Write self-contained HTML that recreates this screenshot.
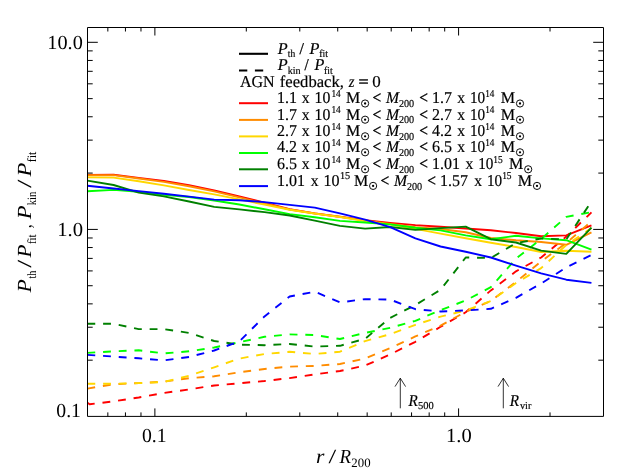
<!DOCTYPE html>
<html><head><meta charset="utf-8"><title>plot</title>
<style>
html,body{margin:0;padding:0;background:#fff;}
body{width:629px;height:472px;overflow:hidden;}
svg{display:block;}
text{text-rendering:geometricPrecision;}
text{font-family:"Liberation Serif",serif;fill:#000;}
.i{font-style:italic;}
</style></head><body>
<div style="width:629px;height:472px;will-change:transform;">
<svg width="629" height="472" viewBox="0 0 629 472">
<rect x="0" y="0" width="629" height="472" fill="#fff"/>
<defs><clipPath id="c"><rect x="87.5" y="27.5" width="516.0" height="388.9"/></clipPath></defs>

<g clip-path="url(#c)" fill="none" stroke-width="1.90" stroke-linejoin="round">
<polyline points="87.40,174.91 113.60,174.70 138.75,177.82 163.90,180.83 189.05,185.14 214.20,190.36 239.35,196.50 264.50,202.64 289.65,209.26 314.80,213.43 339.95,216.79 365.10,220.16 390.25,222.88 415.40,225.17 440.55,226.79 465.70,228.57 490.85,230.20 516.00,233.00 541.15,236.20 566.30,235.40 591.45,225.40" stroke="#ff0000"/>
<polyline points="87.40,402.70 89.60,404.30 113.60,401.30 138.75,397.50 163.90,393.00 189.05,389.40 214.20,385.50 239.35,383.30 264.50,381.00 289.65,378.10 314.80,374.40 339.95,371.00 365.10,365.60 390.25,354.40 415.40,341.80 440.55,326.80 465.70,312.30 490.85,290.40 516.00,271.30 541.15,257.50 566.30,236.60 591.45,212.40" stroke="#ff0000" stroke-dasharray="7.85 7.85"/>
<polyline points="87.40,175.30 113.60,175.10 138.75,178.50 163.90,181.82 189.05,186.23 214.20,191.37 239.35,197.36 264.50,203.40 289.65,209.50 314.80,213.45 339.95,216.92 365.10,220.63 390.25,223.88 415.40,227.12 440.55,229.02 465.70,232.23 490.85,238.00 516.00,240.30 541.15,242.00 566.30,244.80 591.45,232.30" stroke="#ff8c00"/>
<polyline points="87.40,388.58 113.60,384.20 138.75,383.10 163.90,381.60 189.05,378.20 214.20,376.30 239.35,372.30 264.50,369.00 289.65,366.60 314.80,365.90 339.95,364.00 365.10,358.60 390.25,348.10 415.40,336.40 440.55,325.60 465.70,311.80 490.85,301.00 516.00,281.90 541.15,261.40 566.30,243.00 591.45,221.40" stroke="#ff8c00" stroke-dasharray="7.85 7.85"/>
<polyline points="87.40,177.40 113.60,177.60 138.75,181.21 163.90,185.40 189.05,190.05 214.20,194.42 239.35,199.37 264.50,204.61 289.65,209.76 314.80,213.57 339.95,216.95 365.10,221.07 390.25,224.63 415.40,228.88 440.55,233.68 465.70,238.30 490.85,242.80 516.00,247.00 541.15,252.00 566.30,250.80 591.45,251.80" stroke="#ffd700"/>
<polyline points="87.40,383.70 113.60,383.70 138.75,383.10 163.90,382.00 189.05,375.70 214.20,367.30 239.35,358.60 264.50,354.00 289.65,351.80 314.80,354.00 339.95,351.70 365.10,341.10 390.25,334.10 415.40,324.80 440.55,316.70 465.70,310.50 490.85,301.00 516.00,283.00 541.15,268.10 566.30,245.00 591.45,228.00" stroke="#ffd700" stroke-dasharray="7.85 7.85"/>
<polyline points="87.40,191.20 113.60,189.90 138.75,191.90 163.90,194.83 189.05,197.05 214.20,200.50 239.35,204.52 264.50,209.28 289.65,214.09 314.80,217.24 339.95,220.92 365.10,222.55 390.25,224.41 415.40,227.81 440.55,230.39 465.70,235.40 490.85,239.20 516.00,235.80 541.15,238.40 566.30,240.20 591.45,249.70" stroke="#00ff00"/>
<polyline points="87.40,352.86 113.60,351.30 138.75,350.30 163.90,353.40 189.05,351.30 214.20,347.50 239.35,342.20 264.50,336.80 289.65,334.40 314.80,335.00 339.95,339.00 365.10,332.90 390.25,327.80 415.40,320.80 440.55,310.10 465.70,300.50 490.85,287.20 516.00,258.60 541.15,239.00 566.30,216.90 591.45,212.10" stroke="#00ff00" stroke-dasharray="7.85 7.85"/>
<polyline points="87.40,180.59 113.60,185.00 138.75,192.63 163.90,196.41 189.05,201.48 214.20,206.86 239.35,209.38 264.50,212.18 289.65,215.54 314.80,220.65 339.95,225.87 365.10,228.67 390.25,227.06 415.40,229.88 440.55,228.10 465.70,226.62 490.85,239.20 516.00,242.50 541.15,250.60 566.30,253.90 591.45,227.60" stroke="#008000"/>
<polyline points="87.40,323.80 113.60,323.80 138.75,329.10 163.90,329.10 189.05,332.90 214.20,341.00 239.35,344.70 264.50,345.20 289.65,344.00 314.80,346.60 339.95,345.80 365.10,338.80 390.25,317.80 415.40,305.00 440.55,289.80 465.70,257.50 490.85,258.00 516.00,243.10 541.15,238.50 566.30,239.40 591.45,201.50" stroke="#008000" stroke-dasharray="7.85 7.85"/>
<polyline points="87.40,185.70 113.60,188.50 138.75,191.08 163.90,193.74 189.05,196.64 214.20,199.61 239.35,200.19 264.50,202.10 289.65,204.82 314.80,207.65 339.95,213.33 365.10,219.65 390.25,227.19 415.40,238.46 440.55,246.48 465.70,251.70 490.85,257.50 516.00,265.60 541.15,273.40 566.30,279.70 591.45,282.90" stroke="#0000ff"/>
<polyline points="87.40,354.83 113.60,356.60 138.75,358.30 163.90,360.40 189.05,357.00 214.20,350.50 239.35,341.40 264.50,316.40 289.65,296.50 314.80,291.70 339.95,302.40 365.10,299.10 390.25,299.60 415.40,309.20 440.55,311.50 465.70,310.40 490.85,308.80 516.00,297.80 541.15,283.50 566.30,267.30 591.45,255.00" stroke="#0000ff" stroke-dasharray="7.85 7.85"/>
</g>
<g stroke="#000" stroke-width="1" fill="none">
<path d="M87.5 27.5 H603.5 V416.4 H87.5 Z"/>
<path d="M154.88 416.4 v-8 M154.88 27.5 v8"/>
<path d="M458.59 416.4 v-8 M458.59 27.5 v8"/>
<path d="M107.83 416.4 v-4 M107.83 27.5 v4"/>
<path d="M125.45 416.4 v-4 M125.45 27.5 v4"/>
<path d="M140.98 416.4 v-4 M140.98 27.5 v4"/>
<path d="M246.31 416.4 v-4 M246.31 27.5 v4"/>
<path d="M299.79 416.4 v-4 M299.79 27.5 v4"/>
<path d="M337.73 416.4 v-4 M337.73 27.5 v4"/>
<path d="M367.17 416.4 v-4 M367.17 27.5 v4"/>
<path d="M391.21 416.4 v-4 M391.21 27.5 v4"/>
<path d="M411.55 416.4 v-4 M411.55 27.5 v4"/>
<path d="M429.16 416.4 v-4 M429.16 27.5 v4"/>
<path d="M444.69 416.4 v-4 M444.69 27.5 v4"/>
<path d="M550.02 416.4 v-4 M550.02 27.5 v4"/>
<path d="M87.5 229.41 h10.3 M603.5 229.41 h-10.3"/>
<path d="M87.5 42.31 h10.3 M603.5 42.31 h-10.3"/>
<path d="M87.5 360.18 h5.2 M603.5 360.18 h-5.2"/>
<path d="M87.5 327.23 h5.2 M603.5 327.23 h-5.2"/>
<path d="M87.5 303.86 h5.2 M603.5 303.86 h-5.2"/>
<path d="M87.5 285.73 h5.2 M603.5 285.73 h-5.2"/>
<path d="M87.5 270.91 h5.2 M603.5 270.91 h-5.2"/>
<path d="M87.5 258.39 h5.2 M603.5 258.39 h-5.2"/>
<path d="M87.5 247.54 h5.2 M603.5 247.54 h-5.2"/>
<path d="M87.5 237.97 h5.2 M603.5 237.97 h-5.2"/>
<path d="M87.5 173.09 h5.2 M603.5 173.09 h-5.2"/>
<path d="M87.5 140.14 h5.2 M603.5 140.14 h-5.2"/>
<path d="M87.5 116.77 h5.2 M603.5 116.77 h-5.2"/>
<path d="M87.5 98.63 h5.2 M603.5 98.63 h-5.2"/>
<path d="M87.5 83.82 h5.2 M603.5 83.82 h-5.2"/>
<path d="M87.5 71.30 h5.2 M603.5 71.30 h-5.2"/>
<path d="M87.5 60.45 h5.2 M603.5 60.45 h-5.2"/>
<path d="M87.5 50.88 h5.2 M603.5 50.88 h-5.2"/>
</g>
<text x="47.32" y="48.80" font-size="20" textLength="35.45" lengthAdjust="spacingAndGlyphs">10.0</text>
<text x="57.18" y="236.10" font-size="20" textLength="25.80" lengthAdjust="spacingAndGlyphs">1.0</text>
<text x="56.35" y="416.80" font-size="20" textLength="24.63" lengthAdjust="spacingAndGlyphs">0.1</text>
<text x="141.95" y="441.60" font-size="20" textLength="24.63" lengthAdjust="spacingAndGlyphs">0.1</text>
<text x="446.09" y="441.60" font-size="20" textLength="25.69" lengthAdjust="spacingAndGlyphs">1.0</text>
<text x="316.01" y="462.80" font-size="20" font-style="italic" textLength="8.43" lengthAdjust="spacingAndGlyphs">r</text>
<text x="328.40" y="462.80" font-size="20" textLength="7.70" lengthAdjust="spacingAndGlyphs">/</text>
<text x="339.59" y="462.80" font-size="20" font-style="italic" textLength="11.52" lengthAdjust="spacingAndGlyphs">R</text>
<text x="351.34" y="467.40" font-size="12.8" textLength="19.25" lengthAdjust="spacingAndGlyphs">200</text>
<g transform="translate(31.2,292.5) rotate(-90)">
<text x="0.11" y="0.00" font-size="20" font-style="italic" textLength="13.25" lengthAdjust="spacingAndGlyphs">P</text>
<text x="13.90" y="5.10" font-size="12.8" textLength="7.93" lengthAdjust="spacingAndGlyphs">th</text>
<text x="24.70" y="0.00" font-size="20" textLength="8.00" lengthAdjust="spacingAndGlyphs">/</text>
<text x="35.01" y="0.00" font-size="20" font-style="italic" textLength="12.94" lengthAdjust="spacingAndGlyphs">P</text>
<text x="48.46" y="5.10" font-size="12.8" textLength="9.70" lengthAdjust="spacingAndGlyphs">fit</text>
<text x="64.31" y="0.00" font-size="20" textLength="3.86" lengthAdjust="spacingAndGlyphs">,</text>
<text x="73.21" y="0.00" font-size="20" font-style="italic" textLength="13.77" lengthAdjust="spacingAndGlyphs">P</text>
<text x="87.20" y="5.10" font-size="12.8" textLength="13.66" lengthAdjust="spacingAndGlyphs">kin</text>
<text x="104.60" y="0.00" font-size="20" textLength="8.49" lengthAdjust="spacingAndGlyphs">/</text>
<text x="116.11" y="0.00" font-size="20" font-style="italic" textLength="13.87" lengthAdjust="spacingAndGlyphs">P</text>
<text x="130.33" y="5.10" font-size="12.8" textLength="10.53" lengthAdjust="spacingAndGlyphs">fit</text>
</g>
<path d="M239 53.8 H268" stroke="#000" stroke-width="2.1" stroke-linecap="butt"/>
<path d="M239 70.4 H268" stroke="#000" stroke-width="2.0" stroke-dasharray="8.3 7.6"/>
<text x="277.68" y="53.50" font-size="16.6" font-style="italic" textLength="9.94" lengthAdjust="spacingAndGlyphs" stroke="#000" stroke-width="0.18">P</text>
<text x="287.80" y="57.30" font-size="10.6" textLength="7.42" lengthAdjust="spacingAndGlyphs" stroke="#000" stroke-width="0.18">th</text>
<text x="299.50" y="53.50" font-size="16.6" textLength="4.40" lengthAdjust="spacingAndGlyphs" stroke="#000" stroke-width="0.3">/</text>
<text x="309.48" y="53.50" font-size="16.6" font-style="italic" textLength="9.94" lengthAdjust="spacingAndGlyphs" stroke="#000" stroke-width="0.18">P</text>
<text x="319.19" y="57.30" font-size="10.6" textLength="8.76" lengthAdjust="spacingAndGlyphs" stroke="#000" stroke-width="0.18">fit</text>
<text x="277.68" y="69.90" font-size="16.6" font-style="italic" textLength="9.94" lengthAdjust="spacingAndGlyphs" stroke="#000" stroke-width="0.18">P</text>
<text x="287.71" y="73.70" font-size="10.6" textLength="12.94" lengthAdjust="spacingAndGlyphs" stroke="#000" stroke-width="0.18">kin</text>
<text x="304.40" y="69.90" font-size="16.6" textLength="4.20" lengthAdjust="spacingAndGlyphs" stroke="#000" stroke-width="0.3">/</text>
<text x="314.58" y="69.90" font-size="16.6" font-style="italic" textLength="9.84" lengthAdjust="spacingAndGlyphs" stroke="#000" stroke-width="0.18">P</text>
<text x="324.00" y="73.70" font-size="10.6" textLength="8.66" lengthAdjust="spacingAndGlyphs" stroke="#000" stroke-width="0.18">fit</text>
<text x="239.94" y="86.90" font-size="16.6" textLength="34.64" lengthAdjust="spacingAndGlyphs" stroke="#000" stroke-width="0.18">AGN</text>
<text x="279.78" y="86.90" font-size="16.6" textLength="64.17" lengthAdjust="spacingAndGlyphs" stroke="#000" stroke-width="0.18">feedback,</text>
<text x="348.76" y="86.90" font-size="16.6" font-style="italic" textLength="5.73" lengthAdjust="spacingAndGlyphs" stroke="#000" stroke-width="0.18">z</text>
<text x="358.51" y="86.90" font-size="16.6" textLength="10.07" lengthAdjust="spacingAndGlyphs" stroke="#000" stroke-width="0.45">=</text>
<text x="372.15" y="86.90" font-size="16.6" textLength="8.49" lengthAdjust="spacingAndGlyphs" stroke="#000" stroke-width="0.18">0</text>
<path d="M239 103.2 H268" stroke="#ff0000" stroke-width="2.0"/>
<text x="277.00" y="103.40" font-size="16.6" textLength="20.00" lengthAdjust="spacingAndGlyphs" stroke="#000" stroke-width="0.18">1.1</text>
<text x="301.66" y="103.40" font-size="16.6" textLength="7.83" lengthAdjust="spacingAndGlyphs" stroke="#000" stroke-width="0.18">x</text>
<text x="314.61" y="103.40" font-size="16.6" textLength="15.79" lengthAdjust="spacingAndGlyphs" stroke="#000" stroke-width="0.18">10</text>
<text x="331.48" y="96.70" font-size="10.6" textLength="9.26" lengthAdjust="spacingAndGlyphs" stroke="#000" stroke-width="0.18">14</text>
<text x="345.94" y="103.40" font-size="16.6" textLength="14.23" lengthAdjust="spacingAndGlyphs" stroke="#000" stroke-width="0.18">M</text>
<circle cx="365.10" cy="103.50" r="3.6" fill="none" stroke="#000" stroke-width="0.95"/><circle cx="365.10" cy="103.50" r="1.15" fill="#000"/>
<text x="372.54" y="103.40" font-size="16.6" textLength="8.61" lengthAdjust="spacingAndGlyphs" stroke="#000" stroke-width="0.45">&lt;</text>
<text x="385.99" y="103.40" font-size="16.6" font-style="italic" textLength="13.09" lengthAdjust="spacingAndGlyphs" stroke="#000" stroke-width="0.18">M</text>
<text x="398.95" y="107.20" font-size="10.6" textLength="15.23" lengthAdjust="spacingAndGlyphs" stroke="#000" stroke-width="0.18">200</text>
<text x="419.14" y="103.40" font-size="16.6" textLength="8.61" lengthAdjust="spacingAndGlyphs" stroke="#000" stroke-width="0.45">&lt;</text>
<text x="431.90" y="103.40" font-size="16.6" textLength="20.00" lengthAdjust="spacingAndGlyphs" stroke="#000" stroke-width="0.18">1.7</text>
<text x="457.36" y="103.40" font-size="16.6" textLength="7.83" lengthAdjust="spacingAndGlyphs" stroke="#000" stroke-width="0.18">x</text>
<text x="469.96" y="103.40" font-size="16.6" textLength="15.22" lengthAdjust="spacingAndGlyphs" stroke="#000" stroke-width="0.18">10</text>
<text x="485.19" y="96.70" font-size="10.6" textLength="9.15" lengthAdjust="spacingAndGlyphs" stroke="#000" stroke-width="0.18">14</text>
<text x="500.73" y="103.40" font-size="16.6" textLength="14.34" lengthAdjust="spacingAndGlyphs" stroke="#000" stroke-width="0.18">M</text>
<circle cx="520.00" cy="103.50" r="3.6" fill="none" stroke="#000" stroke-width="0.95"/><circle cx="520.00" cy="103.50" r="1.15" fill="#000"/>
<path d="M239 119.9 H268" stroke="#ff8c00" stroke-width="2.0"/>
<text x="277.00" y="119.60" font-size="16.6" textLength="20.00" lengthAdjust="spacingAndGlyphs" stroke="#000" stroke-width="0.18">1.7</text>
<text x="301.66" y="119.60" font-size="16.6" textLength="7.83" lengthAdjust="spacingAndGlyphs" stroke="#000" stroke-width="0.18">x</text>
<text x="314.61" y="119.60" font-size="16.6" textLength="15.79" lengthAdjust="spacingAndGlyphs" stroke="#000" stroke-width="0.18">10</text>
<text x="331.48" y="112.90" font-size="10.6" textLength="9.26" lengthAdjust="spacingAndGlyphs" stroke="#000" stroke-width="0.18">14</text>
<text x="345.94" y="119.60" font-size="16.6" textLength="14.23" lengthAdjust="spacingAndGlyphs" stroke="#000" stroke-width="0.18">M</text>
<circle cx="365.10" cy="119.70" r="3.6" fill="none" stroke="#000" stroke-width="0.95"/><circle cx="365.10" cy="119.70" r="1.15" fill="#000"/>
<text x="372.54" y="119.60" font-size="16.6" textLength="8.61" lengthAdjust="spacingAndGlyphs" stroke="#000" stroke-width="0.45">&lt;</text>
<text x="385.99" y="119.60" font-size="16.6" font-style="italic" textLength="13.09" lengthAdjust="spacingAndGlyphs" stroke="#000" stroke-width="0.18">M</text>
<text x="398.95" y="123.40" font-size="10.6" textLength="15.23" lengthAdjust="spacingAndGlyphs" stroke="#000" stroke-width="0.18">200</text>
<text x="419.14" y="119.60" font-size="16.6" textLength="8.61" lengthAdjust="spacingAndGlyphs" stroke="#000" stroke-width="0.45">&lt;</text>
<text x="431.90" y="119.60" font-size="16.6" textLength="20.00" lengthAdjust="spacingAndGlyphs" stroke="#000" stroke-width="0.18">2.7</text>
<text x="457.36" y="119.60" font-size="16.6" textLength="7.83" lengthAdjust="spacingAndGlyphs" stroke="#000" stroke-width="0.18">x</text>
<text x="469.96" y="119.60" font-size="16.6" textLength="15.22" lengthAdjust="spacingAndGlyphs" stroke="#000" stroke-width="0.18">10</text>
<text x="485.19" y="112.90" font-size="10.6" textLength="9.15" lengthAdjust="spacingAndGlyphs" stroke="#000" stroke-width="0.18">14</text>
<text x="500.73" y="119.60" font-size="16.6" textLength="14.34" lengthAdjust="spacingAndGlyphs" stroke="#000" stroke-width="0.18">M</text>
<circle cx="520.00" cy="119.70" r="3.6" fill="none" stroke="#000" stroke-width="0.95"/><circle cx="520.00" cy="119.70" r="1.15" fill="#000"/>
<path d="M239 136.4 H268" stroke="#ffd700" stroke-width="2.0"/>
<text x="277.00" y="136.20" font-size="16.6" textLength="20.00" lengthAdjust="spacingAndGlyphs" stroke="#000" stroke-width="0.18">2.7</text>
<text x="301.66" y="136.20" font-size="16.6" textLength="7.83" lengthAdjust="spacingAndGlyphs" stroke="#000" stroke-width="0.18">x</text>
<text x="314.61" y="136.20" font-size="16.6" textLength="15.79" lengthAdjust="spacingAndGlyphs" stroke="#000" stroke-width="0.18">10</text>
<text x="331.48" y="129.50" font-size="10.6" textLength="9.26" lengthAdjust="spacingAndGlyphs" stroke="#000" stroke-width="0.18">14</text>
<text x="345.94" y="136.20" font-size="16.6" textLength="14.23" lengthAdjust="spacingAndGlyphs" stroke="#000" stroke-width="0.18">M</text>
<circle cx="365.10" cy="136.30" r="3.6" fill="none" stroke="#000" stroke-width="0.95"/><circle cx="365.10" cy="136.30" r="1.15" fill="#000"/>
<text x="372.54" y="136.20" font-size="16.6" textLength="8.61" lengthAdjust="spacingAndGlyphs" stroke="#000" stroke-width="0.45">&lt;</text>
<text x="385.99" y="136.20" font-size="16.6" font-style="italic" textLength="13.09" lengthAdjust="spacingAndGlyphs" stroke="#000" stroke-width="0.18">M</text>
<text x="398.95" y="140.00" font-size="10.6" textLength="15.23" lengthAdjust="spacingAndGlyphs" stroke="#000" stroke-width="0.18">200</text>
<text x="419.14" y="136.20" font-size="16.6" textLength="8.61" lengthAdjust="spacingAndGlyphs" stroke="#000" stroke-width="0.45">&lt;</text>
<text x="431.90" y="136.20" font-size="16.6" textLength="20.00" lengthAdjust="spacingAndGlyphs" stroke="#000" stroke-width="0.18">4.2</text>
<text x="457.36" y="136.20" font-size="16.6" textLength="7.83" lengthAdjust="spacingAndGlyphs" stroke="#000" stroke-width="0.18">x</text>
<text x="469.96" y="136.20" font-size="16.6" textLength="15.22" lengthAdjust="spacingAndGlyphs" stroke="#000" stroke-width="0.18">10</text>
<text x="485.19" y="129.50" font-size="10.6" textLength="9.15" lengthAdjust="spacingAndGlyphs" stroke="#000" stroke-width="0.18">14</text>
<text x="500.73" y="136.20" font-size="16.6" textLength="14.34" lengthAdjust="spacingAndGlyphs" stroke="#000" stroke-width="0.18">M</text>
<circle cx="520.00" cy="136.30" r="3.6" fill="none" stroke="#000" stroke-width="0.95"/><circle cx="520.00" cy="136.30" r="1.15" fill="#000"/>
<path d="M239 153.0 H268" stroke="#00ff00" stroke-width="2.0"/>
<text x="277.00" y="152.20" font-size="16.6" textLength="20.00" lengthAdjust="spacingAndGlyphs" stroke="#000" stroke-width="0.18">4.2</text>
<text x="301.66" y="152.20" font-size="16.6" textLength="7.83" lengthAdjust="spacingAndGlyphs" stroke="#000" stroke-width="0.18">x</text>
<text x="314.61" y="152.20" font-size="16.6" textLength="15.79" lengthAdjust="spacingAndGlyphs" stroke="#000" stroke-width="0.18">10</text>
<text x="331.48" y="145.50" font-size="10.6" textLength="9.26" lengthAdjust="spacingAndGlyphs" stroke="#000" stroke-width="0.18">14</text>
<text x="345.94" y="152.20" font-size="16.6" textLength="14.23" lengthAdjust="spacingAndGlyphs" stroke="#000" stroke-width="0.18">M</text>
<circle cx="365.10" cy="152.30" r="3.6" fill="none" stroke="#000" stroke-width="0.95"/><circle cx="365.10" cy="152.30" r="1.15" fill="#000"/>
<text x="372.54" y="152.20" font-size="16.6" textLength="8.61" lengthAdjust="spacingAndGlyphs" stroke="#000" stroke-width="0.45">&lt;</text>
<text x="385.99" y="152.20" font-size="16.6" font-style="italic" textLength="13.09" lengthAdjust="spacingAndGlyphs" stroke="#000" stroke-width="0.18">M</text>
<text x="398.95" y="156.00" font-size="10.6" textLength="15.23" lengthAdjust="spacingAndGlyphs" stroke="#000" stroke-width="0.18">200</text>
<text x="419.14" y="152.20" font-size="16.6" textLength="8.61" lengthAdjust="spacingAndGlyphs" stroke="#000" stroke-width="0.45">&lt;</text>
<text x="431.90" y="152.20" font-size="16.6" textLength="20.00" lengthAdjust="spacingAndGlyphs" stroke="#000" stroke-width="0.18">6.5</text>
<text x="457.36" y="152.20" font-size="16.6" textLength="7.83" lengthAdjust="spacingAndGlyphs" stroke="#000" stroke-width="0.18">x</text>
<text x="469.96" y="152.20" font-size="16.6" textLength="15.22" lengthAdjust="spacingAndGlyphs" stroke="#000" stroke-width="0.18">10</text>
<text x="485.19" y="145.50" font-size="10.6" textLength="9.15" lengthAdjust="spacingAndGlyphs" stroke="#000" stroke-width="0.18">14</text>
<text x="500.73" y="152.20" font-size="16.6" textLength="14.34" lengthAdjust="spacingAndGlyphs" stroke="#000" stroke-width="0.18">M</text>
<circle cx="520.00" cy="152.30" r="3.6" fill="none" stroke="#000" stroke-width="0.95"/><circle cx="520.00" cy="152.30" r="1.15" fill="#000"/>
<path d="M239 169.3 H268" stroke="#008000" stroke-width="2.0"/>
<text x="277.00" y="169.20" font-size="16.6" textLength="20.00" lengthAdjust="spacingAndGlyphs" stroke="#000" stroke-width="0.18">6.5</text>
<text x="301.66" y="169.20" font-size="16.6" textLength="7.83" lengthAdjust="spacingAndGlyphs" stroke="#000" stroke-width="0.18">x</text>
<text x="314.61" y="169.20" font-size="16.6" textLength="15.79" lengthAdjust="spacingAndGlyphs" stroke="#000" stroke-width="0.18">10</text>
<text x="331.48" y="162.50" font-size="10.6" textLength="9.26" lengthAdjust="spacingAndGlyphs" stroke="#000" stroke-width="0.18">14</text>
<text x="345.94" y="169.20" font-size="16.6" textLength="14.23" lengthAdjust="spacingAndGlyphs" stroke="#000" stroke-width="0.18">M</text>
<circle cx="365.10" cy="169.30" r="3.6" fill="none" stroke="#000" stroke-width="0.95"/><circle cx="365.10" cy="169.30" r="1.15" fill="#000"/>
<text x="372.54" y="169.20" font-size="16.6" textLength="8.61" lengthAdjust="spacingAndGlyphs" stroke="#000" stroke-width="0.45">&lt;</text>
<text x="385.99" y="169.20" font-size="16.6" font-style="italic" textLength="13.09" lengthAdjust="spacingAndGlyphs" stroke="#000" stroke-width="0.18">M</text>
<text x="398.95" y="173.00" font-size="10.6" textLength="15.23" lengthAdjust="spacingAndGlyphs" stroke="#000" stroke-width="0.18">200</text>
<text x="419.14" y="169.20" font-size="16.6" textLength="8.61" lengthAdjust="spacingAndGlyphs" stroke="#000" stroke-width="0.45">&lt;</text>
<text x="431.90" y="169.20" font-size="16.6" textLength="28.00" lengthAdjust="spacingAndGlyphs" stroke="#000" stroke-width="0.18">1.01</text>
<text x="465.56" y="169.20" font-size="16.6" textLength="7.83" lengthAdjust="spacingAndGlyphs" stroke="#000" stroke-width="0.18">x</text>
<text x="478.16" y="169.20" font-size="16.6" textLength="15.22" lengthAdjust="spacingAndGlyphs" stroke="#000" stroke-width="0.18">10</text>
<text x="493.37" y="162.50" font-size="10.6" textLength="9.39" lengthAdjust="spacingAndGlyphs" stroke="#000" stroke-width="0.18">15</text>
<text x="508.93" y="169.20" font-size="16.6" textLength="14.34" lengthAdjust="spacingAndGlyphs" stroke="#000" stroke-width="0.18">M</text>
<circle cx="528.20" cy="169.30" r="3.6" fill="none" stroke="#000" stroke-width="0.95"/><circle cx="528.20" cy="169.30" r="1.15" fill="#000"/>
<path d="M239 186.1 H268" stroke="#0000ff" stroke-width="2.0"/>
<text x="277.00" y="185.80" font-size="16.6" textLength="28.00" lengthAdjust="spacingAndGlyphs" stroke="#000" stroke-width="0.18">1.01</text>
<text x="310.86" y="185.80" font-size="16.6" textLength="7.83" lengthAdjust="spacingAndGlyphs" stroke="#000" stroke-width="0.18">x</text>
<text x="323.55" y="185.80" font-size="16.6" textLength="16.06" lengthAdjust="spacingAndGlyphs" stroke="#000" stroke-width="0.18">10</text>
<text x="340.00" y="179.10" font-size="10.6" textLength="10.19" lengthAdjust="spacingAndGlyphs" stroke="#000" stroke-width="0.18">15</text>
<text x="353.94" y="185.80" font-size="16.6" textLength="14.23" lengthAdjust="spacingAndGlyphs" stroke="#000" stroke-width="0.18">M</text>
<circle cx="373.10" cy="185.90" r="3.6" fill="none" stroke="#000" stroke-width="0.95"/><circle cx="373.10" cy="185.90" r="1.15" fill="#000"/>
<text x="380.54" y="185.80" font-size="16.6" textLength="8.61" lengthAdjust="spacingAndGlyphs" stroke="#000" stroke-width="0.45">&lt;</text>
<text x="393.99" y="185.80" font-size="16.6" font-style="italic" textLength="13.09" lengthAdjust="spacingAndGlyphs" stroke="#000" stroke-width="0.18">M</text>
<text x="406.95" y="189.60" font-size="10.6" textLength="15.23" lengthAdjust="spacingAndGlyphs" stroke="#000" stroke-width="0.18">200</text>
<text x="427.14" y="185.80" font-size="16.6" textLength="8.61" lengthAdjust="spacingAndGlyphs" stroke="#000" stroke-width="0.45">&lt;</text>
<text x="439.90" y="185.80" font-size="16.6" textLength="28.00" lengthAdjust="spacingAndGlyphs" stroke="#000" stroke-width="0.18">1.57</text>
<text x="474.36" y="185.80" font-size="16.6" textLength="7.83" lengthAdjust="spacingAndGlyphs" stroke="#000" stroke-width="0.18">x</text>
<text x="486.96" y="185.80" font-size="16.6" textLength="15.22" lengthAdjust="spacingAndGlyphs" stroke="#000" stroke-width="0.18">10</text>
<text x="502.17" y="179.10" font-size="10.6" textLength="9.39" lengthAdjust="spacingAndGlyphs" stroke="#000" stroke-width="0.18">15</text>
<text x="517.73" y="185.80" font-size="16.6" textLength="14.34" lengthAdjust="spacingAndGlyphs" stroke="#000" stroke-width="0.18">M</text>
<circle cx="537.00" cy="185.90" r="3.6" fill="none" stroke="#000" stroke-width="0.95"/><circle cx="537.00" cy="185.90" r="1.15" fill="#000"/>
<path d="M400.3 408.3 V378.2 M395.0 386.59999999999997 L400.3 378.2 L405.6 386.59999999999997" stroke="#000" stroke-width="0.8" fill="none"/>
<path d="M503.3 408.3 V378.2 M498.0 386.59999999999997 L503.3 378.2 L508.6 386.59999999999997" stroke="#000" stroke-width="0.8" fill="none"/>
<text x="408.48" y="405.70" font-size="16.6" font-style="italic" textLength="9.28" lengthAdjust="spacingAndGlyphs" stroke="#000" stroke-width="0.18">R</text>
<text x="417.99" y="408.90" font-size="10.6" textLength="15.71" lengthAdjust="spacingAndGlyphs" stroke="#000" stroke-width="0.18">500</text>
<text x="509.78" y="405.70" font-size="16.6" font-style="italic" textLength="9.28" lengthAdjust="spacingAndGlyphs" stroke="#000" stroke-width="0.18">R</text>
<text x="520.00" y="408.90" font-size="10.6" textLength="11.39" lengthAdjust="spacingAndGlyphs" stroke="#000" stroke-width="0.18">vir</text>
</svg></div></body></html>
